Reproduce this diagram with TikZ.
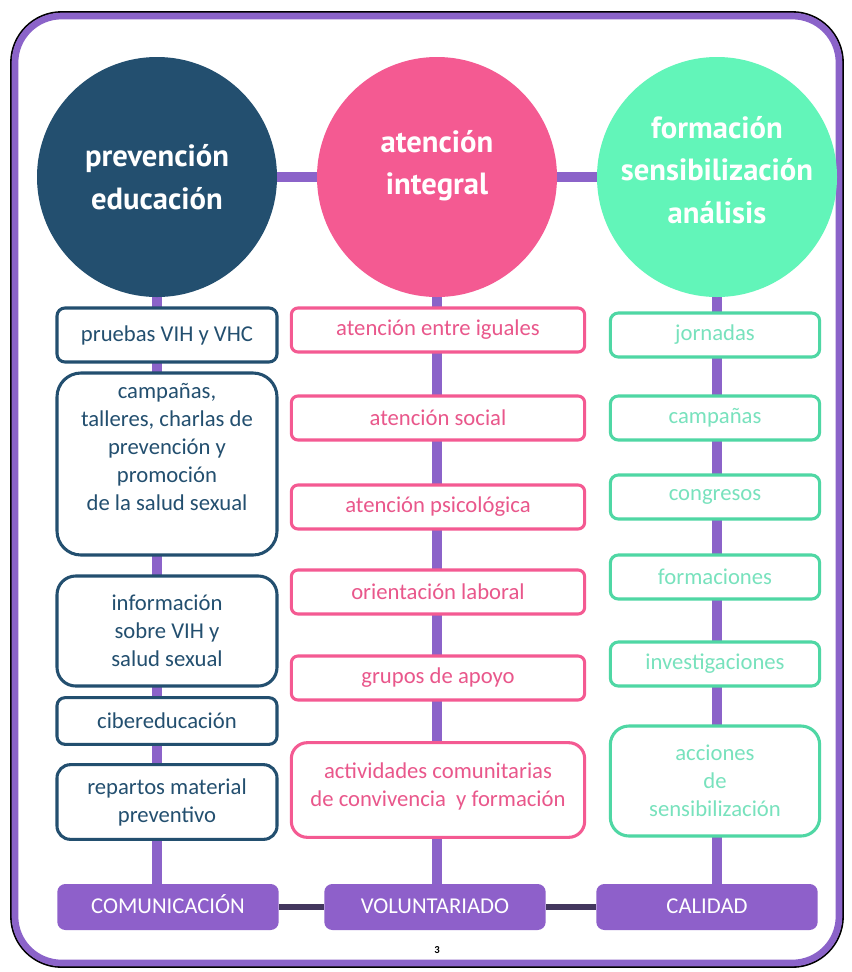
\documentclass[tikz,border=0pt]{standalone}
\usepackage{fontspec}
\setmainfont{Carlito}
\newfontfamily\circfont{PT Sans}
\usetikzlibrary{backgrounds}

\definecolor{navy}{HTML}{234F6F}
\definecolor{rosa}{HTML}{F45A92}
\definecolor{rosatext}{HTML}{E9578B}
\definecolor{menta}{HTML}{62F5B9}
\definecolor{mentaline}{HTML}{4FD7A4}
\definecolor{mentatext}{HTML}{78E2BD}
\definecolor{lila}{HTML}{8B63C9}
\definecolor{lilabox}{HTML}{8E60CA}
\definecolor{lilaedge}{HTML}{43365E}

\tikzset{
  area/.style={circle, minimum size=180pt, inner sep=0pt, align=center, text=white,
    font=\circfont\bfseries\fontsize{23}{32}\selectfont},
  ltbox/.style={draw=navy, line width=2.3pt, fill=white, rounded corners=6pt,
    minimum width=165pt, inner sep=0pt, align=center, text=navy,
    font=\fontsize{17}{21}\selectfont},
  mdbox/.style={draw=rosa, line width=2.3pt, fill=white, rounded corners=5pt,
    minimum width=220pt, minimum height=33pt, inner sep=0pt, align=center, text=rosatext,
    font=\fontsize{17}{21}\selectfont},
  rtbox/.style={draw=mentaline, line width=2.3pt, fill=white, rounded corners=6pt,
    minimum width=157pt, minimum height=33pt, inner sep=0pt, align=center, text=mentatext,
    font=\fontsize{17}{21}\selectfont},
  basebox/.style={fill=lilabox, rounded corners=6pt, minimum width=166pt,
    minimum height=34.5pt, inner sep=0pt, text height=12pt, text depth=2pt,
    text=white, font=\fontsize{17}{21}\selectfont},
  vline/.style={lila, line width=7.5pt},
}

\begin{document}
\begin{tikzpicture}[x=0.75pt, y=-0.75pt]
\useasboundingbox (0,0) rectangle (851,972);

% the three areas
\node[area, fill=navy] (pe) at (157,177) {prevención\\educación};
\node[area, fill=rosa] (ai) at (437,177) {atención\\integral\\[-10pt]};
\node[area, fill=menta] (fs) at (717,177) {formación\\sensibilización\\análisis\\[-21pt]};

% left column
\node[ltbox, minimum height=40.5pt] (pru) at (167,335) {pruebas VIH y VHC};
\node[ltbox, minimum height=136.5pt, rounded corners=18pt] (cam) at (167,464)
  {campañas,\\talleres, charlas de\\prevención y\\promoción\\de la salud sexual\\[4.5pt]};
\node[ltbox, minimum height=82.5pt, rounded corners=14pt] (inf) at (167,631)
  {información\\sobre VIH y\\salud sexual};
\node[ltbox, minimum height=35pt] (cib) at (167,721) {cibereducación};
\node[ltbox, minimum height=56pt, rounded corners=10pt] (rep) at (167,802)
  {repartos material\\preventivo};

% middle column
\node[mdbox] (igu) at (438,330) {atención entre iguales};
\node[mdbox] (soc) at (438,418) {atención social};
\node[mdbox] (psi) at (438,507) {atención psicológica};
\node[mdbox] (lab) at (438,592) {orientación laboral};
\node[mdbox] (apo) at (438,678) {grupos de apoyo};
\node[mdbox, minimum height=71pt, rounded corners=12pt] (act) at (438,790)
  {actividades comunitarias\\de convivencia\ \ y formación\\[-13pt]};

% right column
\node[rtbox] (jor) at (715,335) {jornadas};
\node[rtbox] (cmp) at (715,418) {campañas};
\node[rtbox] (con) at (715,497) {congresos};
\node[rtbox] (frm) at (715,577) {formaciones};
\node[rtbox] (inv) at (715,664) {investigaciones};
\node[rtbox, minimum height=82.5pt, rounded corners=14pt] (acc) at (715,781)
  {acciones\\de\\sensibilización};

% base
\node[basebox] (com) at (168,907) {COMUNICACIÓN};
\node[basebox] (vol) at (435,907) {VOLUNTARIADO};
\node[basebox] (cal) at (707,907) {CALIDAD};

\node[font=\bfseries\fontsize{8}{10}\selectfont] (pag) at (437,950) {3};

\begin{scope}[on background layer]
% frame
\draw[black, line width=1.4pt, rounded corners=38pt] (11,12) rectangle (843,967);
\draw[lila, line width=5pt, fill=white, rounded corners=35pt] (15,16) rectangle (839,963);
\draw[vline] (pe.east) -- (ai.west);
\draw[vline] (ai.east) -- (fs.west);
\draw[vline] (pe) -- (pe |- com.north);
\draw[vline] (ai) -- (ai |- vol.north);
\draw[vline] (fs) -- (fs |- cal.north);
\draw[lilaedge, line width=4pt] (com) -- (vol);
\draw[lilaedge, line width=4pt] (vol) -- (cal);
\end{scope}
\end{tikzpicture}
\end{document}
